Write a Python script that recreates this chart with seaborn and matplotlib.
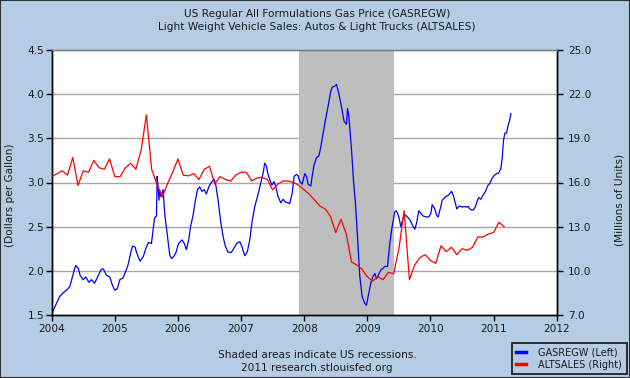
import numpy as np
import pandas as pd
import matplotlib
matplotlib.use("Agg")
import matplotlib.pyplot as plt
import seaborn as sns
from matplotlib.lines import Line2D
from matplotlib.patches import Rectangle

# ---------------- data ----------------
gas_years = [
    2004.00, 2004.03, 2004.074, 2004.127, 2004.18, 2004.233, 2004.285, 2004.317, 2004.35, 2004.38,
    2004.42, 2004.45, 2004.497, 2004.54, 2004.59, 2004.63, 2004.68, 2004.734, 2004.787, 2004.82,
    2004.866, 2004.92, 2004.96, 2005.00, 2005.04, 2005.08, 2005.13, 2005.17, 2005.21, 2005.25,
    2005.28, 2005.32, 2005.34, 2005.38, 2005.40, 2005.45, 2005.49, 2005.53, 2005.58, 2005.605,
    2005.63, 2005.66, 2005.67, 2005.685, 2005.70, 2005.71, 2005.73, 2005.765, 2005.79, 2005.828,
    2005.87, 2005.897, 2005.93, 2005.965,
    2006.01, 2006.065, 2006.10, 2006.134, 2006.17, 2006.20, 2006.24, 2006.277, 2006.31, 2006.345,
    2006.38, 2006.414, 2006.45, 2006.488, 2006.52, 2006.572, 2006.60, 2006.636, 2006.68, 2006.715,
    2006.75, 2006.794, 2006.847, 2006.89, 2006.93, 2006.98, 2007.02, 2007.058, 2007.10, 2007.137,
    2007.175, 2007.217, 2007.26, 2007.31, 2007.35, 2007.375, 2007.40, 2007.428, 2007.455, 2007.49,
    2007.52, 2007.55, 2007.586, 2007.63, 2007.666, 2007.70, 2007.745, 2007.77, 2007.81, 2007.84,
    2007.877, 2007.90, 2007.93, 2007.967, 2008.01, 2008.036, 2008.062, 2008.105, 2008.126, 2008.157,
    2008.194, 2008.231, 2008.263, 2008.30, 2008.337, 2008.38, 2008.42, 2008.443, 2008.485, 2008.511,
    2008.548, 2008.59, 2008.633, 2008.67, 2008.686, 2008.707, 2008.75, 2008.78, 2008.812, 2008.844,
    2008.88, 2008.918, 2008.96, 2008.987, 2009.013, 2009.055, 2009.092, 2009.12, 2009.145, 2009.172,
    2009.214, 2009.25, 2009.277, 2009.32, 2009.356, 2009.393, 2009.436, 2009.46, 2009.50, 2009.53,
    2009.568, 2009.605, 2009.636, 2009.673, 2009.726, 2009.752, 2009.78, 2009.816, 2009.848, 2009.885,
    2009.937, 2009.974, 2010.006, 2010.027, 2010.07, 2010.096, 2010.122, 2010.165, 2010.186, 2010.217,
    2010.238, 2010.27, 2010.29, 2010.334, 2010.36, 2010.397, 2010.418, 2010.45, 2010.48, 2010.503,
    2010.534, 2010.566, 2010.598, 2010.624, 2010.65, 2010.682, 2010.714, 2010.745, 2010.767, 2010.798,
    2010.836, 2010.872, 2010.904, 2010.94, 2010.978, 2011.01, 2011.047, 2011.084, 2011.115, 2011.136,
    2011.158, 2011.179, 2011.205, 2011.232, 2011.253, 2011.274,
]
gas_prices = [
    1.50, 1.56, 1.63, 1.71, 1.75, 1.78, 1.82, 1.90, 1.99, 2.06,
    2.03, 1.95, 1.90, 1.93, 1.87, 1.90, 1.86, 1.94, 2.02, 2.02,
    1.95, 1.93, 1.84, 1.78, 1.80, 1.90, 1.92, 1.99, 2.07, 2.20,
    2.28, 2.27, 2.22, 2.14, 2.11, 2.16, 2.25, 2.32, 2.31, 2.46,
    2.60, 2.62, 3.07, 2.95, 2.80, 2.92, 2.84, 2.92, 2.65, 2.43,
    2.18, 2.14, 2.16, 2.20,
    2.31, 2.35, 2.31, 2.24, 2.35, 2.50, 2.63, 2.80, 2.92, 2.95,
    2.90, 2.92, 2.87, 2.95, 2.99, 3.04, 2.97, 2.80, 2.54, 2.39,
    2.28, 2.21, 2.21, 2.26, 2.31, 2.33, 2.26, 2.17, 2.22, 2.35,
    2.56, 2.73, 2.84, 2.99, 3.11, 3.22, 3.19, 3.09, 3.03, 2.97,
    3.01, 2.95, 2.84, 2.77, 2.81, 2.78, 2.77, 2.76, 2.88, 3.07,
    3.09, 3.08, 3.01, 2.98, 3.10, 3.07, 2.98, 2.96, 3.07, 3.20,
    3.28, 3.30, 3.40, 3.56, 3.71, 3.87, 4.03, 4.08, 4.09, 4.11,
    4.01, 3.86, 3.69, 3.66, 3.84, 3.75, 3.37, 3.03, 2.77, 2.39,
    1.94, 1.71, 1.63, 1.61, 1.71, 1.86, 1.94, 1.97, 1.91, 1.95,
    2.01, 2.03, 2.05, 2.05, 2.31, 2.50, 2.67, 2.68, 2.61, 2.50,
    2.60, 2.63, 2.61, 2.58, 2.50, 2.47, 2.54, 2.68, 2.65, 2.62,
    2.61, 2.61, 2.65, 2.75, 2.70, 2.63, 2.61, 2.73, 2.80, 2.82,
    2.84, 2.85, 2.86, 2.90, 2.86, 2.76, 2.70, 2.73, 2.73, 2.72,
    2.73, 2.72, 2.73, 2.70, 2.69, 2.69, 2.73, 2.80, 2.83, 2.81,
    2.86, 2.90, 2.96, 2.99, 3.05, 3.08, 3.10, 3.11, 3.16, 3.27,
    3.48, 3.56, 3.56, 3.65, 3.70, 3.78,
]

sales_start = "2004-01"
sales_values = [
    16.4, 16.6, 16.8, 16.5, 17.7, 15.8, 16.8, 16.7, 17.5, 17.0, 16.9, 17.6,
    16.4, 16.4, 17.0, 17.3, 16.9, 18.2, 20.6, 16.9, 15.9, 15.0, 15.9, 16.7,
    17.6, 16.5, 16.45, 16.6, 16.2, 16.9, 17.1, 15.9, 16.4, 16.2, 16.1, 16.5,
    16.7, 16.7, 16.1, 16.3, 16.35, 16.2, 15.5, 15.9, 16.1, 16.1, 16.0, 15.8,
    15.5, 15.2, 14.8, 14.4, 14.2, 13.7, 12.6, 13.5, 12.5, 10.6, 10.4, 10.1,
    9.6, 9.3, 9.6, 9.4, 9.9, 9.8, 11.5, 14.1, 9.4, 10.4, 10.9, 11.1,
    10.7, 10.5, 11.7, 11.3, 11.6, 11.1, 11.5, 11.4, 11.6, 12.3, 12.3, 12.5,
    12.6, 13.3, 13.0,
]

recession_start = 2007.92
recession_end = 2009.42

left_ticks = [1.5, 2.0, 2.5, 3.0, 3.5, 4.0, 4.5]
right_ticks = [7.0, 10.0, 13.0, 16.0, 19.0, 22.0, 25.0]
year_ticks = [2004, 2005, 2006, 2007, 2008, 2009, 2010, 2011, 2012]

title_lines = ["US Regular All Formulations Gas Price (GASREGW)",
               "Light Weight Vehicle Sales: Autos & Light Trucks (ALTSALES)"]
footer_lines = ["Shaded areas indicate US recessions.",
                "2011 research.stlouisfed.org"]
legend_labels = ["GASREGW (Left)", "ALTSALES (Right)"]

# ---------------- frames ----------------
gas_df = pd.DataFrame({"year": gas_years, "price": gas_prices})
dates = pd.date_range(sales_start, periods=len(sales_values), freq="MS")
sales_df = pd.DataFrame({"year": dates.year + (dates.month - 1) / 12.0,
                         "sales": sales_values})

# ---------------- figure ----------------
BG = "#B4CDE5"
W, H = 630, 378
fig = plt.figure(figsize=(W / 100, H / 100), dpi=100, facecolor=BG)
plt.rcParams["font.family"] = ["DejaVu Sans"]

x0, x1, y0, y1 = 51.7, 556.7, 50, 315
ax = fig.add_axes([x0 / W, 1 - y1 / H, (x1 - x0) / W, (y1 - y0) / H])
ax.set_facecolor("white")

for t in left_ticks[1:-1]:
    ax.axhline(t, color="#A6A6A6", lw=1.0, zorder=0.5)
ax.axvspan(recession_start, recession_end, color="#BEBEBE", lw=0, zorder=1)

sns.lineplot(data=gas_df, x="year", y="price", ax=ax, color="#0000FF",
             lw=0.9, zorder=3, estimator=None, sort=False)
ax2 = ax.twinx()
sns.lineplot(data=sales_df, x="year", y="sales", ax=ax2, color="#FF0000",
             lw=0.9, zorder=3, estimator=None, sort=False)

ax.set_xlim(2004, 2012)
ax.set_ylim(1.5, 4.5)
ax2.set_ylim(7, 25)
ax.set_xticks(year_ticks)
ax.set_xticklabels([str(y) for y in year_ticks])
ax.set_yticks(left_ticks)
ax.set_yticklabels([f"{v:.1f}" for v in left_ticks])
ax2.set_yticks(right_ticks)
ax2.set_yticklabels([f"{v:.1f}" for v in right_ticks])
ax.set_xlabel("")
ax.set_ylabel("")
ax2.set_ylabel("")

fs = 7.6
ax.tick_params(axis="x", direction="out", length=4, width=1, pad=2.5,
               labelsize=fs, colors="black", labelcolor="#1a1a1a")
ax.tick_params(axis="y", direction="out", length=4, width=1, pad=1.5,
               labelsize=fs, colors="black", labelcolor="#1a1a1a")
ax2.tick_params(axis="y", direction="out", length=4, width=1, pad=4,
                labelsize=fs, colors="black", labelcolor="#1a1a1a")
for a in (ax, ax2):
    for s in a.spines.values():
        s.set_color("black")
        s.set_linewidth(1.0)
    a.spines["top"].set_color("#808080")
ax.grid(False)
ax2.grid(False)

# titles / labels
fig.text(317 / W, 1 - 14 / H, title_lines[0], ha="center", va="center",
         fontsize=fs, color="#1a1a1a")
fig.text(317 / W, 1 - 27 / H, title_lines[1], ha="center", va="center",
         fontsize=fs, color="#1a1a1a")
fig.text(10 / W, 1 - 195 / H, "(Dollars per Gallon)", rotation=90,
         ha="center", va="center", fontsize=fs, color="#1a1a1a")
fig.text(620 / W, 1 - 200 / H, "(Millions of Units)", rotation=90,
         ha="center", va="center", fontsize=fs, color="#1a1a1a")
fig.text(317 / W, 1 - 355 / H, footer_lines[0], ha="center", va="center",
         fontsize=fs, color="#1a1a1a")
fig.text(317 / W, 1 - 368 / H, footer_lines[1], ha="center", va="center",
         fontsize=fs, color="#1a1a1a")

# legend
handles = [Line2D([], [], color="#0000FF", lw=2.5),
           Line2D([], [], color="#FF0000", lw=2.5)]
leg = fig.legend(handles, legend_labels,
                 loc="lower right", bbox_to_anchor=(626.5 / W, 4 / H),
                 bbox_transform=fig.transFigure, fontsize=7.0,
                 frameon=True, fancybox=False, facecolor=BG,
                 edgecolor="#202020", framealpha=1, handlelength=1.0,
                 handletextpad=1.3, borderpad=0.45, labelspacing=0.25,
                 borderaxespad=0)
leg.get_frame().set_linewidth(1.3)
for t in leg.get_texts():
    t.set_color("#1a1a1a")

# outer border
fig.patches.append(Rectangle((0, 0), 1, 1, transform=fig.transFigure,
                             fill=False, edgecolor="#303030", lw=1.5))

fig.savefig("out.png", dpi=100, facecolor=BG)
